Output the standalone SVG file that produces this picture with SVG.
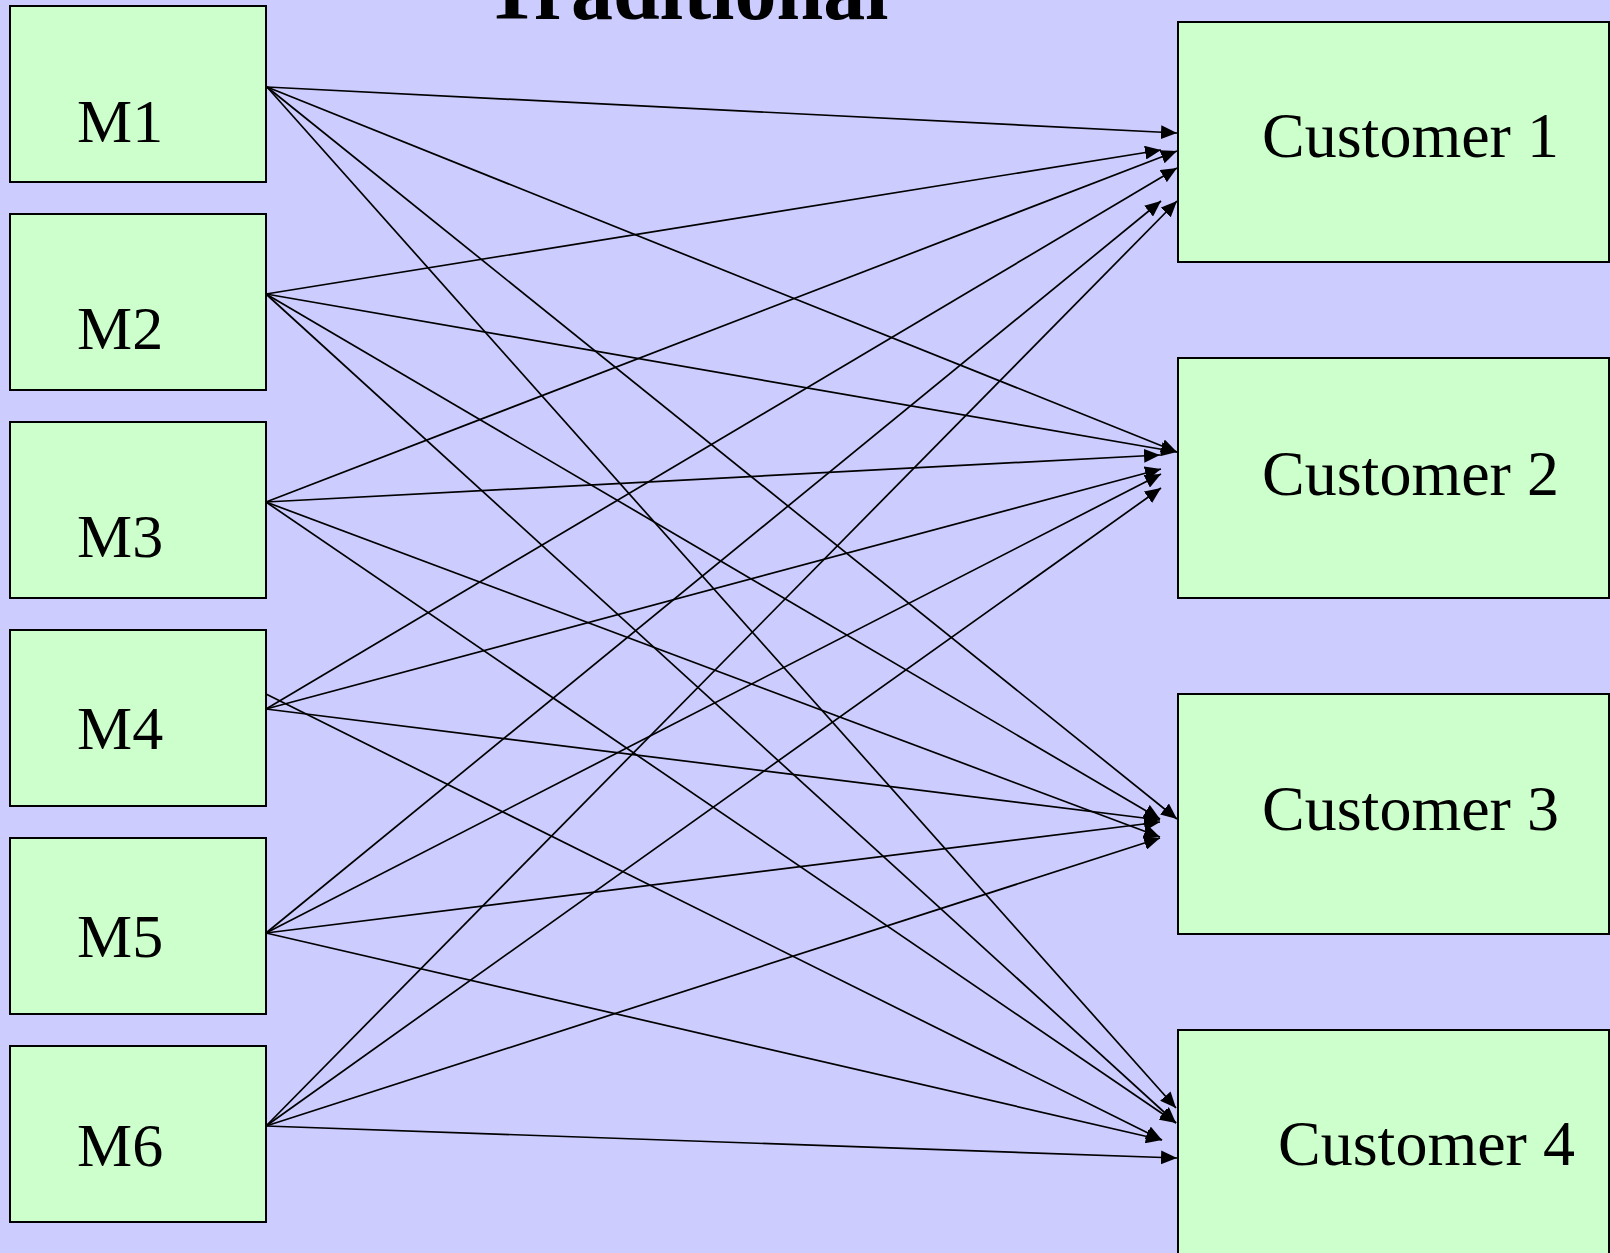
<svg xmlns="http://www.w3.org/2000/svg" width="1610" height="1253" viewBox="0 0 1610 1253">
  <style>
    .box { fill: #CCFFCC; stroke: #000; stroke-width: 2; }
    .lbl { font-family: "Liberation Serif", "Times New Roman", serif; font-size: 62px; fill: #000; }
    .cust { font-size: 64px; }
    .title { font-family: "Liberation Serif", "Times New Roman", serif; font-size: 84px; font-weight: bold; fill: #000; }
    .edge { stroke: #000; stroke-width: 1.7; fill: none; marker-end: url(#arrow); }
  </style>
  <defs>
    <marker id="arrow" markerUnits="userSpaceOnUse" markerWidth="17" markerHeight="14" refX="16" refY="7" orient="auto">
      <path d="M0,0 L16,7 L0,14 z" fill="#000"/>
    </marker>
  </defs>

  <rect width="1610" height="1253" fill="#CCCCFF"/>

  <text class="title" x="484" y="19">Traditional</text>

  <!-- manufacturers -->
  <g id="m1"><rect class="box" x="10" y="6" width="256" height="176"/><text class="lbl" x="77" y="142">M1</text></g>
  <g id="m2"><rect class="box" x="10" y="214" width="256" height="176"/><text class="lbl" x="77" y="349">M2</text></g>
  <g id="m3"><rect class="box" x="10" y="422" width="256" height="176"/><text class="lbl" x="77" y="557">M3</text></g>
  <g id="m4"><rect class="box" x="10" y="630" width="256" height="176"/><text class="lbl" x="77" y="749">M4</text></g>
  <g id="m5"><rect class="box" x="10" y="838" width="256" height="176"/><text class="lbl" x="77" y="957">M5</text></g>
  <g id="m6"><rect class="box" x="10" y="1046" width="256" height="176"/><text class="lbl" x="77" y="1166">M6</text></g>

  <!-- customers -->
  <g id="c1"><rect class="box" x="1178" y="22" width="431" height="240"/><text class="lbl cust" x="1262" y="157">Customer 1</text></g>
  <g id="c2"><rect class="box" x="1178" y="358" width="431" height="240"/><text class="lbl cust" x="1262" y="495">Customer 2</text></g>
  <g id="c3"><rect class="box" x="1178" y="694" width="431" height="240"/><text class="lbl cust" x="1262" y="830">Customer 3</text></g>
  <g id="c4"><rect class="box" x="1178" y="1030" width="431" height="240"/><text class="lbl cust" x="1278" y="1165">Customer 4</text></g>

  <!-- every manufacturer ships to every customer -->
  <g id="connectors">
    <line class="edge" x1="267" y1="87" x2="1177" y2="133"/>
    <line class="edge" x1="267" y1="87" x2="1177" y2="452"/>
    <line class="edge" x1="267" y1="87" x2="1177" y2="819"/>
    <line class="edge" x1="267" y1="87" x2="1176" y2="1108"/>

    <line class="edge" x1="266" y1="294" x2="1161" y2="150"/>
    <line class="edge" x1="266" y1="294" x2="1177" y2="452"/>
    <line class="edge" x1="266" y1="294" x2="1160" y2="819"/>
    <line class="edge" x1="266" y1="294" x2="1176" y2="1123"/>

    <line class="edge" x1="266" y1="502" x2="1177" y2="151"/>
    <line class="edge" x1="266" y1="502" x2="1160" y2="455"/>
    <line class="edge" x1="266" y1="502" x2="1160" y2="837"/>
    <line class="edge" x1="266" y1="502" x2="1176" y2="1123"/>

    <line class="edge" x1="266" y1="709" x2="1177" y2="168"/>
    <line class="edge" x1="266" y1="709" x2="1161" y2="469"/>
    <line class="edge" x1="266" y1="709" x2="1160" y2="820"/>
    <line class="edge" x1="266" y1="694" x2="1162" y2="1140"/>

    <line class="edge" x1="266" y1="933" x2="1161" y2="201"/>
    <line class="edge" x1="266" y1="933" x2="1161" y2="474"/>
    <line class="edge" x1="266" y1="933" x2="1160" y2="822"/>
    <line class="edge" x1="266" y1="933" x2="1162" y2="1140"/>

    <line class="edge" x1="266" y1="1126" x2="1177" y2="201"/>
    <line class="edge" x1="266" y1="1126" x2="1161" y2="488"/>
    <line class="edge" x1="266" y1="1126" x2="1160" y2="838"/>
    <line class="edge" x1="266" y1="1126" x2="1177" y2="1158"/>
  </g>
</svg>
